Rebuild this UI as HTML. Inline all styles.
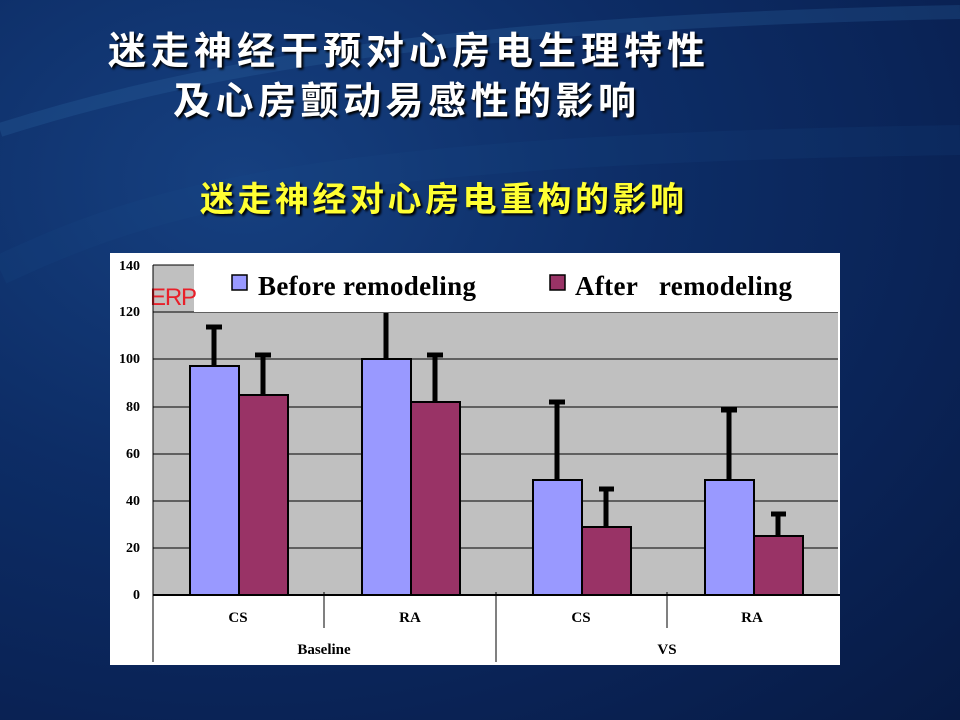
<!DOCTYPE html>
<html><head><meta charset="utf-8"><style>
body{margin:0;width:960px;height:720px;overflow:hidden;position:relative;
background:radial-gradient(ellipse at 25% 25%,#164080 0%,#0d2d66 40%,#0a2356 70%,#071a44 100%);
font-family:"Liberation Sans","Noto Sans CJK SC",sans-serif;}
.t{position:absolute;color:#fff;font-weight:bold;white-space:nowrap;text-shadow:2px 2px 2px #000;}
</style></head><body>
<svg width="960" height="720" style="position:absolute;left:0;top:0">
<path d="M0,130 C250,50 550,20 960,12" stroke="#2e6aa8" stroke-width="14" fill="none" opacity="0.25"/>
<path d="M0,270 C150,200 300,150 960,140" stroke="#1e4f8e" stroke-width="30" fill="none" opacity="0.15"/>
</svg>
<div class="t" style="left:108px;top:30px;font-size:38px;letter-spacing:5px;line-height:44px">迷走神经干预对心房电生理特性</div>
<div class="t" style="left:173px;top:80px;font-size:38px;letter-spacing:4.5px;line-height:44px">及心房颤动易感性的影响</div>
<div class="t" style="left:200px;top:180px;font-size:34px;letter-spacing:3.5px;line-height:40px;color:#ffff33">迷走神经对心房电重构的影响</div>
<svg width="960" height="720" style="position:absolute;left:0;top:0" font-family="Liberation Serif,serif" font-weight="bold">
<rect x="110" y="253" width="730" height="412" fill="#fff"/>
<rect x="153" y="265" width="685" height="330" fill="#c0c0c0"/>
<g stroke="#000" stroke-width="1">
<line x1="153" x2="838" y1="548" y2="548"/><line x1="153" x2="838" y1="501" y2="501"/>
<line x1="153" x2="838" y1="454" y2="454"/><line x1="153" x2="838" y1="407" y2="407"/>
<line x1="153" x2="838" y1="359" y2="359"/><line x1="153" x2="838" y1="312" y2="312"/>
<line x1="153" x2="838" y1="265" y2="265"/>
</g>
<rect x="194" y="263" width="646" height="49" fill="#fff"/>
<text x="150" y="305" font-family="Liberation Sans,sans-serif" font-weight="normal" font-size="24" fill="#e8202a" textLength="47">ERP</text>
<rect x="232" y="275" width="15" height="15" fill="#9999ff" stroke="#000" stroke-width="1.5"/>
<text x="258" y="295" font-size="27" textLength="218">Before remodeling</text>
<rect x="550" y="275" width="15" height="15" fill="#993366" stroke="#000" stroke-width="1.5"/>
<text x="575" y="295" font-size="27" xml:space="preserve" textLength="217">After   remodeling</text>
<g stroke="#000" stroke-width="5">
<line x1="214" y1="366" x2="214" y2="327"/><line x1="206" y1="327" x2="222" y2="327"/>
<line x1="263" y1="395" x2="263" y2="355"/><line x1="255" y1="355" x2="271" y2="355"/>
<line x1="386" y1="359" x2="386" y2="313"/>
<line x1="435" y1="402" x2="435" y2="355"/><line x1="427" y1="355" x2="443" y2="355"/>
<line x1="557" y1="480" x2="557" y2="402"/><line x1="549" y1="402" x2="565" y2="402"/>
<line x1="606" y1="527" x2="606" y2="489"/><line x1="599" y1="489" x2="614" y2="489"/>
<line x1="729" y1="480" x2="729" y2="410"/><line x1="721" y1="410" x2="737" y2="410"/>
<line x1="778" y1="536" x2="778" y2="514"/><line x1="771" y1="514" x2="786" y2="514"/>
</g>
<g stroke="#000" stroke-width="2">
<rect x="190" y="366" width="49" height="229" fill="#9999ff"/>
<rect x="239" y="395" width="49" height="200" fill="#993366"/>
<rect x="362" y="359" width="49" height="236" fill="#9999ff"/>
<rect x="411" y="402" width="49" height="193" fill="#993366"/>
<rect x="533" y="480" width="49" height="115" fill="#9999ff"/>
<rect x="582" y="527" width="49" height="68" fill="#993366"/>
<rect x="705" y="480" width="49" height="115" fill="#9999ff"/>
<rect x="754" y="536" width="49" height="59" fill="#993366"/>
</g>
<g stroke="#000" stroke-width="1">
<line x1="153" y1="595" x2="840" y2="595" stroke-width="2"/>
<line x1="153" y1="265" x2="153" y2="662"/>
<line x1="324" y1="592" x2="324" y2="628"/>
<line x1="496" y1="592" x2="496" y2="662"/>
<line x1="667" y1="592" x2="667" y2="628"/>
</g>
<g font-size="14" text-anchor="end">
<text x="140" y="270">140</text><text x="140" y="316">120</text><text x="140" y="363">100</text>
<text x="140" y="411">80</text><text x="140" y="458">60</text><text x="140" y="505">40</text>
<text x="140" y="552">20</text><text x="140" y="599">0</text>
</g>
<g font-size="15" text-anchor="middle">
<text x="238" y="622">CS</text><text x="410" y="622">RA</text>
<text x="581" y="622">CS</text><text x="752" y="622">RA</text>
<text x="324" y="654">Baseline</text><text x="667" y="654">VS</text>
</g>
</svg>
</body></html>
